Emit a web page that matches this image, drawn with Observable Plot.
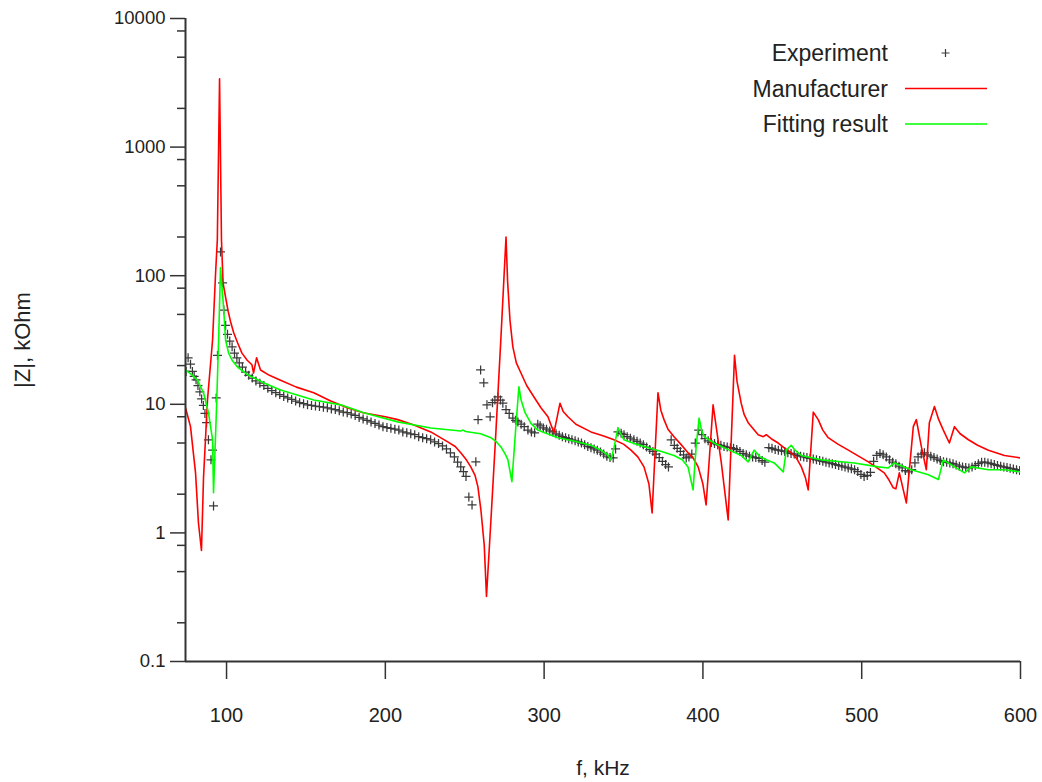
<!DOCTYPE html>
<html>
<head>
<meta charset="utf-8">
<script src="https://cdn.jsdelivr.net/npm/d3@7"></script>
<script src="https://cdn.jsdelivr.net/npm/@observablehq/plot@0.6"></script>
<style>
  html, body { margin: 0; padding: 0; background: #fff; }
  #wrap { position: relative; width: 1042px; height: 782px; }
  #legend { position: absolute; left: 0; top: 0; pointer-events: none; }
  text { font-family: "Liberation Sans", Arial, sans-serif; }
</style>
</head>
<body>
<div id="wrap"></div>
<script>
// ---- Data (f in kHz, |Z| in kOhm) ----
const xDomain = [74.15, 600];
const yDomain = [0.1, 10000];
const xTicks = [100, 200, 300, 400, 500, 600];
const yMajor = [0.1, 1, 10, 100, 1000, 10000];
const yMinor = [0.2, 0.5, 0.8, 2, 5, 8, 20, 50, 80, 200, 500, 800, 2000, 5000, 8000];

const seriesNames = ["Experiment", "Manufacturer", "Fitting result"];
const xLabel = "f, kHz";
const yLabel = "|Z|, kOhm";

// Experiment (crosses)
const expF = [74.5,75.8,77.3,78.5,79.6,80.8,82,83.2,84.3,85.4,86.4,87.4,88.6,90.2,91.2,91.8,93.5,94.3,96.2,97.5,98.3,99.4,100.6,
  102,103.5,105,106.5,108,110,112,114,116.2,118.5,121,123.5,126,128.5,131,133.5,136,138.5,141,143.5,146,148.5,151,153.5,156,158.5,
  161,163.5,166,168.5,171,173.5,176,178.5,181,183.5,186,188.5,191,193.5,196,198.5,201,203.5,206,208.5,211,213.5,216,218.5,221,223.5,
  226,228.5,231,233.5,236,238.5,241,243.5,245.5,247.5,249.2,250.8,252.6,254.6,257,258.4,260,262,264,266,267.5,269,270.9,272.5,274,276,
  278,280.3,282,283.5,285.5,287.5,289.8,292,294,296,297.5,299.5,301.5,303.5,305.5,307.5,309.5,311.5,313.5,315.5,317.5,319.5,321.5,
  323.5,325.5,327.5,329.5,331.5,333.5,335.5,337.5,339.5,341.5,343.5,345,346.5,348.5,350.3,352.3,354.3,356.5,358.5,360.5,362.5,364.5,
  366.5,368.5,370.5,372.5,374.5,376.5,378.3,380,382,383.8,385.8,387.8,389.5,391.2,393,395.2,397.3,399.3,401.3,403.3,405.3,407.3,409.3,
  411.3,413.3,415.3,417.3,419.3,421.3,423.3,425.3,427.3,429.3,431.3,433.3,435.3,437.3,439,441.5,443.5,445.5,447.5,449.5,451.5,453.5,
  455.5,457.5,459.5,461.5,463.5,465.5,467.5,469.5,471.5,473.5,475.5,477.5,479.5,481.5,483.5,485.5,487.5,489.5,491.5,493.5,495.5,497.5,
  499.5,501.5,503.5,505.5,507.5,509.5,511.5,513.5,515.5,517.5,519.5,521.5,523.5,525.5,527.5,529.5,531.5,533.5,535.5,537.5,539.5,541.5,
  543.5,545.5,547.5,549.5,551.5,553.5,555.5,557.5,559.5,561.5,563.5,565.5,567.5,569.5,571.5,573.5,575.5,577.5,579.5,581.5,583.5,585.5,
  587.5,589.5,591.5,593.5,595.5,597.5,599.5];
const expZ = [18,23,20.5,18,16.5,15.5,14,12.5,11,9.8,8.5,7.2,5.3,3.7,4.4,1.62,11.2,24,153,88,54,41,35,
  31,28,25,23,21,19.5,17.8,16.8,16,15.2,14.6,14,13.3,12.8,12.3,11.9,11.5,11.2,10.9,10.6,10.3,10.1,9.9,9.8,9.7,9.6,
  9.5,9.4,9.2,9.1,8.9,8.7,8.6,8.4,8.2,7.9,7.7,7.5,7.3,7.1,6.9,6.7,6.6,6.5,6.4,6.3,6.1,6.0,5.9,5.8,5.6,5.5,
  5.4,5.3,5.1,4.95,4.75,4.5,4.2,3.9,3.55,3.26,3.0,2.75,1.9,1.65,3.57,7.6,18.5,14.7,9.9,8.0,10.3,10.8,11.4,10.8,10.2,9.1,
  8.5,7.8,7.5,7.3,7.0,6.7,6.3,6.1,6.0,7.0,6.8,6.55,6.4,6.2,6.1,5.9,5.75,5.6,5.5,5.4,5.3,5.2,5.1,
  5.0,4.85,4.7,4.6,4.5,4.4,4.25,4.1,3.95,3.85,3.83,4.5,6.1,5.95,5.8,5.6,5.45,5.3,5.15,5.0,4.85,4.65,
  4.45,4.3,4.1,3.85,3.6,3.4,3.26,5.3,4.8,4.55,4.3,4.05,3.83,3.9,4.1,5.0,6.3,5.8,5.4,5.2,5.05,4.95,4.85,
  4.8,4.7,4.65,4.6,4.55,4.45,4.3,4.15,4.05,3.95,3.9,3.85,3.8,3.65,3.55,4.6,4.55,4.45,4.4,4.35,4.3,4.2,
  4.15,4.1,4.0,3.95,3.9,3.85,3.8,3.75,3.7,3.65,3.6,3.55,3.5,3.45,3.4,3.35,3.3,3.25,3.2,3.15,3.1,3.0,
  2.85,2.75,2.8,2.95,3.6,4.0,4.15,4.05,3.9,3.7,3.55,3.45,3.3,3.2,3.05,2.98,3.1,3.5,3.9,4.1,4.2,4.05,
  3.95,3.85,3.75,3.65,3.57,3.55,3.5,3.45,3.38,3.3,3.26,3.22,3.2,3.25,3.35,3.45,3.55,3.55,3.5,3.45,3.4,3.35,
  3.3,3.26,3.22,3.18,3.14,3.1,3.05];

// Manufacturer (red line)
const mfrF = [74.15,77.3,80.5,82.3,84.2,85.5,88.0,91.2,93.1,94.2,95.6,96.8,97.8,99.4,101,102.5,104.5,107,109.7,113,116,117,118.9,121.4,127,134,144,154.9,
  165.6,176,186,200,207.8,218,228.6,239.3,244,247.5,251,253.8,256.5,258.3,260.2,262.3,263.7,266.5,269.6,272.8,276,277,278.5,280.3,282.5,285.4,289,293.6,298,302.4,306.2,
  310,312,315,320,329.5,337,344,350,354.7,359,362.9,366,368,371.7,373.5,375.5,378,381.8,386,390.6,394,397,400,402,406.4,411.6,415.9,419.9,421.5,424.1,426,428.5,434.8,438,439.9,443,447.4,
  451,455.6,459,462,464.5,466.3,469.5,472.6,475.5,478.9,485,491.6,498,504.2,509,514.2,517,519.9,521.5,523.7,528.1,532.5,534.4,537.6,540.7,542.6,545.8,548.5,551.4,555.2,
  558.4,562,567.2,573,579.8,589.9,600];
const mfrZ = [9.4,6.7,2.9,1.2,0.73,2.7,10.8,31.6,105,190,3400,190,88,68,53,44,36,30,25,22,20.3,17.5,23,18.5,16.8,15.4,13.6,12.3,
  10.6,9.4,8.6,8.0,7.6,6.9,6.1,5.1,4.7,4.2,3.7,3.26,2.8,2.28,1.5,0.8,0.32,1.26,6.0,33,200,90,45,28,21,17.5,14,11.4,9.4,8.0,6.0,
  10.2,8.8,8.0,7.0,6.1,5.7,5.3,4.9,4.4,3.9,3.26,2.4,1.43,12.3,9.0,7.6,6.4,5.6,4.9,4.2,3.8,3.26,2.4,1.65,9.9,3.5,1.26,24,15,10.2,8.3,7.2,5.8,5.6,5.8,5.4,5.0,
  4.6,4.2,3.8,3.26,2.7,2.16,8.7,7.6,6.3,5.5,4.9,4.4,3.95,3.57,3.25,2.93,2.6,2.24,2.2,2.93,1.71,6.7,7.6,4.66,3.1,7.2,9.6,7.6,6.3,5.0,
  6.7,5.9,5.3,4.8,4.4,4.0,3.83];

// Fitting result (green line)
const fitF = [74.15,78,81.7,85.5,88.6,91.2,91.8,93.7,95,96.2,98.1,99.4,101.3,103.5,106.9,113.2,123.3,134,154.9,171.9,186.4,207.8,228.6,
  247.5,249,250.5,260,266.5,270,272.8,275.5,277.2,279.7,282.2,284.1,285.5,288,291.7,296,302,308.7,318,329.5,335.8,340,342.1,344,346.5,348,350.3,358,365.4,374,381.8,
  387,390.6,393.8,395.7,397.6,399,400.8,407,415,424.1,428.5,432.3,436,440,444.9,450.6,452.5,455.6,458,462,474.5,495.3,510.5,516.7,520.6,531.3,
  542,548.3,551.4,556.5,564.7,569,579.8,590,600];
const fitZ = [18.5,17,15.4,12.3,8.6,5.3,2.05,9.5,31.6,115,57,31.6,25,22,19.5,17,14.7,12.9,10.8,9.9,8.6,7.3,6.55,
  6.2,6.3,6.15,5.9,5.5,5.1,4.66,4.1,3.7,2.5,6.7,13.7,10.8,8.6,7.1,6.3,5.9,5.5,5.2,4.8,4.4,4.05,3.7,4.6,6.55,6.0,5.3,4.9,4.6,4.3,4.0,
  3.7,3.26,2.16,4.66,7.8,6.4,5.6,5.0,4.5,4.0,3.57,4.4,3.9,3.7,3.5,2.98,4.4,4.8,4.4,4.0,3.7,3.5,3.26,3.2,3.5,3.1,
  2.83,2.6,3.7,3.38,2.93,3.26,3.1,3.1,2.98];

const experiment = expF.map((f, i) => ({f, z: expZ[i]}));
const manufacturer = mfrF.map((f, i) => ({f, z: mfrZ[i]}));
const fitting = fitF.map((f, i) => ({f, z: fitZ[i]}));

// thin "+" symbol
const plusSymbol = {
  draw(ctx, size) {
    const r = Math.sqrt(size / Math.PI);
    ctx.moveTo(-r, 0); ctx.lineTo(r, 0);
    ctx.moveTo(0, -r); ctx.lineTo(0, r);
  }
};

const axisColor = "#333";
const chart = Plot.plot({
  width: 1042,
  height: 782,
  marginLeft: 185,
  marginRight: 22,
  marginTop: 18,
  marginBottom: 121,
  style: {fontFamily: "'Liberation Sans', Arial, sans-serif", fontSize: "21px", color: "#222", background: "#fff", overflow: "visible"},
  x: {domain: xDomain},
  y: {type: "log", domain: yDomain},
  marks: [
    Plot.axisY({ticks: yMinor, tickSize: 8, tickFormat: () => "", label: null, stroke: axisColor, strokeWidth: 1.5}),
    Plot.axisY({ticks: yMajor, tickSize: 15, tickPadding: 5, tickFormat: d => String(d), label: null, stroke: axisColor, strokeWidth: 1.5, fontSize: 18.5}),
    Plot.axisX({ticks: xTicks, tickSize: 18, tickPadding: 28, tickFormat: d => String(d), label: null, stroke: axisColor, strokeWidth: 1.5, fontSize: 20}),
    Plot.dot(experiment, {x: "f", y: "z", symbol: plusSymbol, r: 4.5, fill: "none", stroke: "#3a3a3a", strokeWidth: 1.25, clip: true}),
    Plot.line(manufacturer, {x: "f", y: "z", stroke: "#ff0000", strokeWidth: 1.6, clip: true}),
    Plot.line(fitting, {x: "f", y: "z", stroke: "#00ff00", strokeWidth: 1.6, clip: true}),
    Plot.ruleX([xDomain[0]], {stroke: axisColor, strokeWidth: 2}),
    Plot.ruleY([yDomain[0]], {stroke: axisColor, strokeWidth: 2}),
    Plot.text([yLabel], {frameAnchor: "left", dx: -163, rotate: -90, textAnchor: "middle", lineAnchor: "middle", fill: "#222", fontSize: 22}),
    Plot.text([xLabel], {frameAnchor: "bottom", dy: 107, textAnchor: "middle", lineAnchor: "middle", fill: "#222", fontSize: 21})
  ]
});

const wrap = document.getElementById("wrap");
wrap.appendChild(chart);

// Legend overlay (top right, inside plot)
const ns = "http://www.w3.org/2000/svg";
const leg = document.createElementNS(ns, "svg");
leg.setAttribute("id", "legend");
leg.setAttribute("width", 1042);
leg.setAttribute("height", 160);
const legendStyles = [
  {kind: "plus", color: "#3a3a3a"},
  {kind: "line", color: "#ff0000"},
  {kind: "line", color: "#00ff00"}
];
seriesNames.forEach((name, i) => {
  const cy = 53 + i * 35.5;
  const t = document.createElementNS(ns, "text");
  t.setAttribute("x", 888);
  t.setAttribute("y", cy);
  t.setAttribute("dy", "0.35em");
  t.setAttribute("text-anchor", "end");
  t.setAttribute("font-size", "23");
  t.setAttribute("fill", "#222");
  t.textContent = name;
  leg.appendChild(t);
  const st = legendStyles[i];
  const p = document.createElementNS(ns, "path");
  if (st.kind === "plus") {
    p.setAttribute("d", `M941.5,${cy}h8M945.5,${cy - 4}v8`);
    p.setAttribute("stroke-width", 1.2);
  } else {
    p.setAttribute("d", `M905,${cy}H987`);
    p.setAttribute("stroke-width", 1.5);
  }
  p.setAttribute("stroke", st.color);
  p.setAttribute("fill", "none");
  leg.appendChild(p);
});
wrap.appendChild(leg);
</script>
</body>
</html>
